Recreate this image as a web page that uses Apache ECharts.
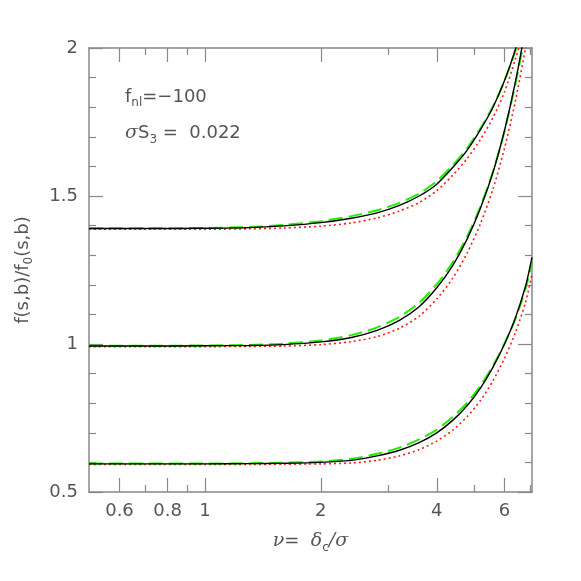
<!DOCTYPE html>
<html>
<head>
<meta charset="utf-8">
<script src="https://cdn.jsdelivr.net/npm/echarts@6/dist/echarts.min.js"></script>
<style>
  html, body { margin: 0; padding: 0; background: #fff; }
  #main { width: 581px; height: 581px; }
</style>
</head>
<body>
<div id="main"></div>
<script>
// nu = delta_c / sigma
var nu = [0.5, 0.7, 1, 1.3, 1.6, 2, 2.4, 2.8, 3.2, 3.6, 4, 4.4, 4.8, 5.2, 5.6, 6, 6.4, 6.8, 7.07];

var topBlack = [1.390, 1.390, 1.391, 1.393, 1.399, 1.410, 1.425, 1.443, 1.468, 1.500, 1.540, 1.596, 1.655, 1.725, 1.800, 1.890, 1.995, 2.12, 2.21];
var topGreen = [1.391, 1.391, 1.392, 1.395, 1.402, 1.415, 1.432, 1.452, 1.477, 1.508, 1.550, 1.604, 1.662, 1.730, 1.803, 1.890, 1.990, 2.11, 2.20];
var topRed   = [1.388, 1.388, 1.388, 1.389, 1.392, 1.398, 1.409, 1.426, 1.449, 1.478, 1.518, 1.570, 1.627, 1.692, 1.765, 1.852, 1.962, 2.08, 2.16];

var midBlack = [0.993, 0.993, 0.994, 0.995, 0.998, 1.007, 1.022, 1.046, 1.080, 1.126, 1.190, 1.265, 1.355, 1.460, 1.580, 1.722, 1.885, 2.07, 2.21];
var midGreen = [0.994, 0.994, 0.995, 0.997, 1.001, 1.012, 1.030, 1.056, 1.092, 1.139, 1.202, 1.276, 1.364, 1.466, 1.583, 1.720, 1.878, 2.05, 2.18];
var midRed   = [0.991, 0.991, 0.991, 0.992, 0.993, 0.998, 1.008, 1.025, 1.053, 1.094, 1.152, 1.222, 1.308, 1.408, 1.524, 1.662, 1.820, 2.00, 2.13];

var lowBlack = [0.595, 0.595, 0.595, 0.596, 0.597, 0.600, 0.607, 0.622, 0.641, 0.667, 0.700, 0.742, 0.792, 0.852, 0.922, 1.000, 1.088, 1.195, 1.293];
var lowGreen = [0.596, 0.596, 0.596, 0.597, 0.599, 0.603, 0.612, 0.629, 0.650, 0.678, 0.711, 0.753, 0.802, 0.860, 0.927, 1.002, 1.085, 1.185, 1.275];
var lowRed   = [0.593, 0.593, 0.593, 0.593, 0.594, 0.595, 0.598, 0.607, 0.622, 0.643, 0.672, 0.709, 0.755, 0.810, 0.876, 0.952, 1.038, 1.140, 1.235];

var xMajor = [0.6, 0.8, 1, 2, 4, 6];
var xMinor = [0.7, 0.9, 3, 5, 7];

var font = 'DejaVu Sans';
var txt = '#555';
var axisCol = '#888';

function pairs(arr) {
  return nu.map(function (v, i) { return [v, arr[i]]; });
}

function xAx(pos, ticks, len, labels, line) {
  return {
    type: 'log', logBase: 10, min: 0.5, max: 7.07, position: pos,
    axisLine: { show: line, lineStyle: { color: axisCol, width: 1.5 } },
    axisTick: { show: true, inside: true, length: len, customValues: ticks,
      lineStyle: { color: axisCol, width: 1.2 } },
    axisLabel: { show: labels, customValues: ticks, margin: 10, fontFamily: font, fontSize: 18, color: txt,
      formatter: function (v) { return String(+v.toFixed(2)); } },
    splitLine: { show: false },
    minorTick: { show: false },
    minorSplitLine: { show: false }
  };
}

function yAx(pos, labels) {
  return {
    type: 'value', min: 0.5, max: 2, interval: 0.5, position: pos,
    axisLine: { show: true, lineStyle: { color: axisCol, width: 1.5 } },
    axisTick: { show: true, inside: true, length: 14, lineStyle: { color: axisCol, width: 1.2 } },
    minorTick: { show: true, splitNumber: 5, length: 7, lineStyle: { color: axisCol, width: 1.2 } },
    axisLabel: { show: labels, margin: 11, fontFamily: font, fontSize: 18, color: txt },
    splitLine: { show: false }
  };
}

function line(arr, color, type, width) {
  return {
    type: 'line', data: pairs(arr), xAxisIndex: 0, yAxisIndex: 0,
    showSymbol: false, symbol: 'none', smooth: 0.25, clip: true,
    lineStyle: { color: color, type: type, width: width },
    silent: true, animation: false, z: 3
  };
}

var chart = echarts.init(document.getElementById('main'));

var nameX = xAx('bottom', xMajor, 14, true, true);
nameX.name = '{i|ν}{a|=  }{i|δ}{s|c}{i|/σ}';
nameX.nameLocation = 'middle';
nameX.nameGap = 36;
nameX.nameTextStyle = {
  fontFamily: font, color: txt,
  rich: {
    i: { fontFamily: 'DejaVu Serif', fontStyle: 'italic', fontSize: 19, color: txt, lineHeight: 26, verticalAlign: 'middle' },
    a: { fontFamily: font, fontSize: 18, color: txt, lineHeight: 26, verticalAlign: 'middle' },
    s: { fontFamily: font, fontSize: 12, color: txt, lineHeight: 26, verticalAlign: 'bottom' }
  }
};

var nameY = yAx('left', true);
nameY.name = '{a|f(s,b)/f}{s|0}{a|(s,b)}';
nameY.nameLocation = 'middle';
nameY.nameGap = 54;
nameY.nameRotate = 90;
nameY.nameTextStyle = {
  fontFamily: font, color: txt,
  rich: {
    a: { fontFamily: font, fontSize: 18, color: txt, lineHeight: 24, verticalAlign: 'middle' },
    s: { fontFamily: font, fontSize: 12, color: txt, lineHeight: 24, verticalAlign: 'bottom' }
  }
};

chart.setOption({
  animation: false,
  backgroundColor: '#fff',
  grid: { left: 89, right: 49, top: 48, bottom: 89, containLabel: false },
  xAxis: [
    nameX,
    xAx('bottom', xMinor, 7, false, false),
    xAx('top', xMajor, 14, false, true),
    xAx('top', xMinor, 7, false, false)
  ],
  yAxis: [
    nameY,
    yAx('right', false)
  ],
  graphic: [
    {
      type: 'text', left: 125, top: 88,
      style: {
        text: '{a|f}{s|nl}{a|=−100}',
        rich: {
          a: { fontFamily: font, fontSize: 18, fill: txt, lineHeight: 24, verticalAlign: 'middle' },
          s: { fontFamily: font, fontSize: 12, fill: txt, lineHeight: 24, verticalAlign: 'bottom' }
        }
      }
    },
    {
      type: 'text', left: 125, top: 124,
      style: {
        text: '{i|σ}{a|S}{s|3}{a| =  0.022}',
        rich: {
          i: { fontFamily: 'DejaVu Serif', fontStyle: 'italic', fontSize: 19, fill: txt, lineHeight: 24, verticalAlign: 'middle' },
          a: { fontFamily: font, fontSize: 18, fill: txt, lineHeight: 24, verticalAlign: 'middle' },
          s: { fontFamily: font, fontSize: 12, fill: txt, lineHeight: 24, verticalAlign: 'bottom' }
        }
      }
    }
  ],
  series: [
    line(topRed, '#ff1a1a', [2, 3], 1.6),
    line(midRed, '#ff1a1a', [2, 3], 1.6),
    line(lowRed, '#ff1a1a', [2, 3], 1.6),
    line(topGreen, '#22ee00', [14, 6], 2),
    line(midGreen, '#22ee00', [14, 6], 2),
    line(lowGreen, '#22ee00', [14, 6], 2),
    line(topBlack, '#000', 'solid', 1.4),
    line(midBlack, '#000', 'solid', 1.4),
    line(lowBlack, '#000', 'solid', 1.4)
  ]
});
</script>
</body>
</html>
